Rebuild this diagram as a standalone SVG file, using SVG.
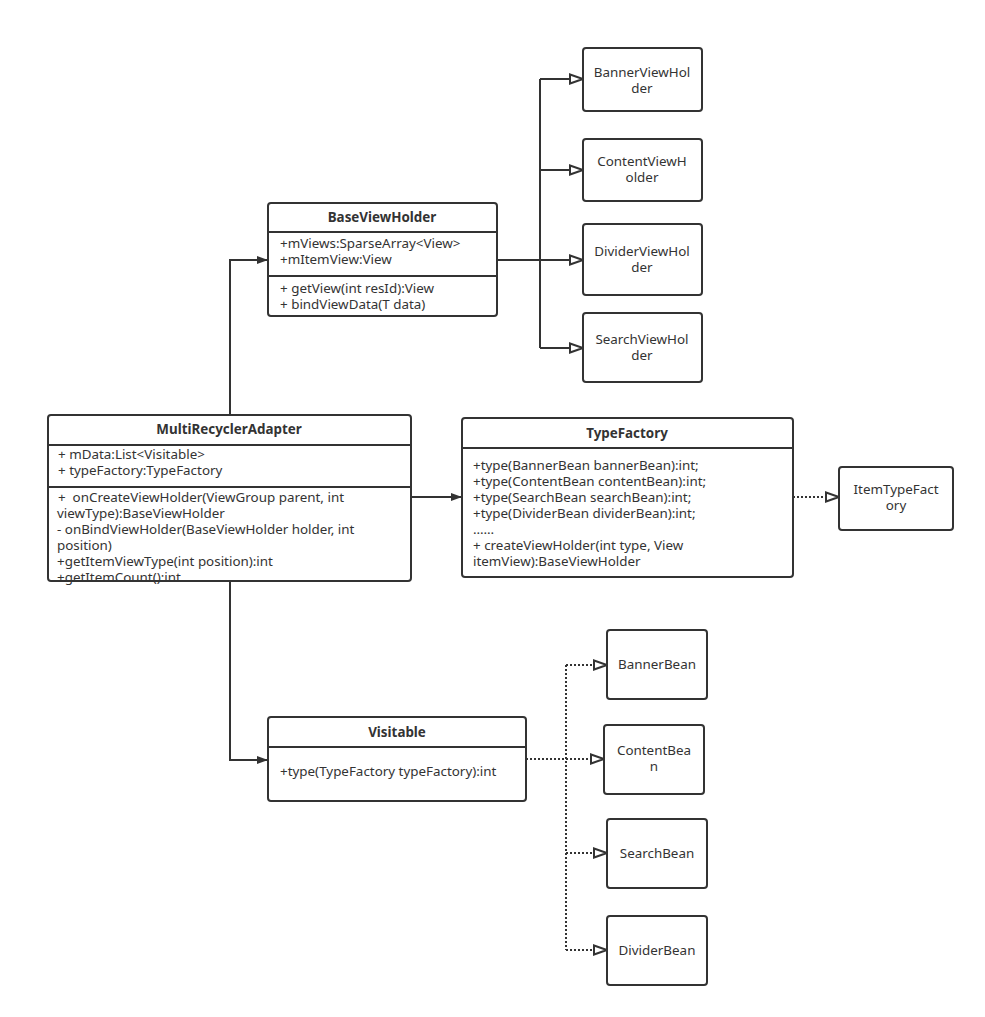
<svg xmlns="http://www.w3.org/2000/svg" width="985" height="1017" viewBox="0 0 985 1017">
<style>
.box{fill:#fff;stroke:#333;stroke-width:2}
.ln{stroke:#333;stroke-width:2;fill:none}
.t{font-family:"Noto Sans","Open Sans",sans-serif;font-size:13.4px;fill:#333}
.b{font-weight:bold;font-size:13.4px}
.c{text-anchor:middle}
.dot{stroke:#333;stroke-width:2;fill:none;stroke-dasharray:2 2}
</style>
<defs>
<marker id="fill" markerUnits="userSpaceOnUse" markerWidth="14" markerHeight="12" refX="12" refY="6" orient="auto">
<path d="M1,2 L12,6 L1,10 Z" fill="#333"/>
</marker>
<marker id="hollow" markerUnits="userSpaceOnUse" markerWidth="18" markerHeight="14" refX="15" refY="7" orient="auto">
<path d="M2,2.5 L15,7 L2,11.5 Z" fill="#fff" stroke="#333" stroke-width="2"/>
</marker>
</defs>
<rect width="985" height="1017" fill="#fff"/>
<g id="connectors">
<path class="ln" d="M230,415 V260 H268" marker-end="url(#fill)"/>
<path class="ln" d="M230,581 V760 H268" marker-end="url(#fill)"/>
<path class="ln" d="M411,497 H462" marker-end="url(#fill)"/>
<path class="ln" d="M497,260 H540"/>
<path class="ln" d="M540,79 V348"/>
<path class="ln" d="M540,79 H583" marker-end="url(#hollow)"/>
<path class="ln" d="M540,170 H583" marker-end="url(#hollow)"/>
<path class="ln" d="M540,260 H583" marker-end="url(#hollow)"/>
<path class="ln" d="M540,348 H583" marker-end="url(#hollow)"/>
<path class="dot" d="M793,497 H839" marker-end="url(#hollow)"/>
<path class="dot" d="M526,759 H566"/>
<path class="dot" d="M566,665 V950"/>
<path class="dot" d="M566,665 H607" marker-end="url(#hollow)"/>
<path class="dot" d="M566,759 H604" marker-end="url(#hollow)"/>
<path class="dot" d="M566,853 H607" marker-end="url(#hollow)"/>
<path class="dot" d="M566,950 H607" marker-end="url(#hollow)"/>
</g>
<g id="BaseViewHolder">
<rect class="box" x="268" y="203" width="229" height="113" rx="3"/>
<path class="ln" d="M268,232 H497 M268,276 H497"/>
<text class="t b c" x="382" y="222">BaseViewHolder</text>
<text class="t" x="280" y="248">+mViews:SparseArray&lt;View&gt;</text>
<text class="t" x="280" y="264">+mItemView:View</text>
<text class="t" x="280" y="293">+ getView(int resId):View</text>
<text class="t" x="280" y="309">+ bindViewData(T data)</text>
</g>
<g id="MultiRecyclerAdapter">
<rect class="box" x="48" y="415" width="363" height="166" rx="3"/>
<path class="ln" d="M48,445 H411 M48,487 H411"/>
<text class="t b c" x="229" y="434">MultiRecyclerAdapter</text>
<text class="t" x="58" y="459">+ mData:List&lt;Visitable&gt;</text>
<text class="t" x="58" y="475">+ typeFactory:TypeFactory</text>
<text class="t" x="58" y="502" xml:space="preserve">+  onCreateViewHolder(ViewGroup parent, int</text>
<text class="t" x="57" y="518">viewType):BaseViewHolder</text>
<text class="t" x="57" y="534">- onBindViewHolder(BaseViewHolder holder, int</text>
<text class="t" x="57" y="550">position)</text>
<text class="t" x="57" y="566">+getItemViewType(int position):int</text>
<text class="t" x="57" y="582">+getItemCount():int</text>
</g>
<g id="TypeFactory">
<rect class="box" x="462" y="418" width="331" height="159" rx="3"/>
<path class="ln" d="M462,448 H793"/>
<text class="t b c" x="627" y="438">TypeFactory</text>
<text class="t" x="473" y="470">+type(BannerBean bannerBean):int;</text>
<text class="t" x="473" y="486">+type(ContentBean contentBean):int;</text>
<text class="t" x="473" y="502">+type(SearchBean searchBean):int;</text>
<text class="t" x="473" y="518">+type(DividerBean dividerBean):int;</text>
<text class="t" x="473" y="534">……</text>
<text class="t" x="473" y="550">+ createViewHolder(int type, View</text>
<text class="t" x="473" y="566">itemView):BaseViewHolder</text>
</g>
<g id="ItemTypeFactory">
<rect class="box" x="839" y="467" width="114" height="63" rx="3"/>
<text class="t c" x="896" y="494">ItemTypeFact</text>
<text class="t c" x="896" y="510">ory</text>
</g>
<g id="Visitable">
<rect class="box" x="268" y="717" width="258" height="84" rx="3"/>
<path class="ln" d="M268,747 H526"/>
<text class="t b c" x="397" y="737">Visitable</text>
<text class="t" x="280" y="776">+type(TypeFactory typeFactory):int</text>
</g>
<g id="BannerViewHolder">
<rect class="box" x="583" y="48" width="119" height="63" rx="3"/>
<text class="t c" x="642" y="77">BannerViewHol</text>
<text class="t c" x="642" y="93">der</text>
</g>
<g id="ContentViewHolder">
<rect class="box" x="583" y="139" width="119" height="62" rx="3"/>
<text class="t c" x="642" y="166">ContentViewH</text>
<text class="t c" x="642" y="182">older</text>
</g>
<g id="DividerViewHolder">
<rect class="box" x="583" y="224" width="119" height="71" rx="3"/>
<text class="t c" x="642" y="256">DividerViewHol</text>
<text class="t c" x="642" y="272">der</text>
</g>
<g id="SearchViewHolder">
<rect class="box" x="583" y="313" width="119" height="69" rx="3"/>
<text class="t c" x="642" y="344">SearchViewHol</text>
<text class="t c" x="642" y="360">der</text>
</g>
<g id="BannerBean">
<rect class="box" x="607" y="630" width="100" height="69" rx="3"/>
<text class="t c" x="657" y="669">BannerBean</text>
</g>
<g id="ContentBean">
<rect class="box" x="604" y="725" width="100" height="69" rx="3"/>
<text class="t c" x="654" y="755">ContentBea</text>
<text class="t c" x="654" y="771">n</text>
</g>
<g id="SearchBean">
<rect class="box" x="607" y="819" width="100" height="69" rx="3"/>
<text class="t c" x="657" y="858">SearchBean</text>
</g>
<g id="DividerBean">
<rect class="box" x="607" y="916" width="100" height="69" rx="3"/>
<text class="t c" x="657" y="955">DividerBean</text>
</g>
</svg>
